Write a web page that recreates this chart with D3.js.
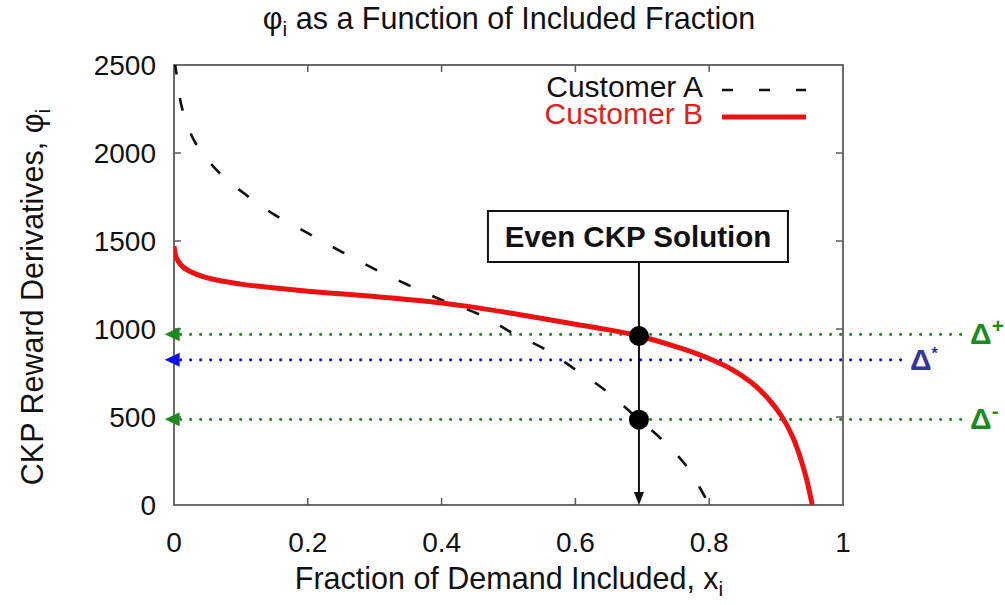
<!DOCTYPE html>
<html><head><meta charset="utf-8">
<script src="https://cdn.jsdelivr.net/npm/d3@7"></script>
<style>
html,body{margin:0;padding:0;background:#fff;}
text{font-family:"Liberation Sans",Arial,Helvetica,sans-serif;}
</style></head>
<body>
<svg id="chart" width="1005" height="605"></svg>
<script>
// ---- data ----
const xTicks = [0, 0.2, 0.4, 0.6, 0.8, 1];
const xTickLabels = ["0", "0.2", "0.4", "0.6", "0.8", "1"];
const yTicks = [0, 500, 1000, 1500, 2000, 2500];
const yTickLabels = ["0", "500", "1000", "1500", "2000", "2500"];

const seriesNames = ["Customer A", "Customer B"];
const custA_x = [0.001, 0.005, 0.0115, 0.031, 0.066, 0.108, 0.15, 0.2, 0.25, 0.3, 0.35, 0.4, 0.461, 0.506, 0.557, 0.601, 0.648, 0.695, 0.73, 0.767, 0.8];
const custA_y = [2520, 2420, 2263, 2064, 1894, 1761, 1650, 1545, 1440, 1340, 1250, 1165, 1075, 977, 880, 767, 642, 485, 369, 216, 0];
const custB_x = [0, 0.003, 0.01, 0.02, 0.05, 0.1, 0.2, 0.3, 0.4, 0.442, 0.5, 0.6, 0.65, 0.695, 0.75, 0.78, 0.805, 0.835, 0.864, 0.888, 0.909, 0.925, 0.937, 0.946, 0.954];
const custB_y = [1470, 1410, 1365, 1335, 1290, 1255, 1215, 1185, 1148, 1127, 1092, 1027, 995, 960, 900, 862, 824, 768, 693, 605, 500, 385, 260, 140, 0];

const deltaNames = ["Δ", "Δ", "Δ"];
const deltaSup = ["+", "*", "-"];
const deltaValues = [970, 825, 487];
const deltaLineEnd = [1.187, 1.097, 1.187];   // x (data units) where each dotted line stops
const deltaColors = ["#1e8a1e", "#1010e0", "#1e8a1e"];
const deltaLabelColors = ["#1e8a1e", "#34349a", "#1e8a1e"];

const solutionLabel = "Even CKP Solution";
const solutionX = 0.695;
const solutionDots = [960, 485];

// ---- layout ----
const svg = d3.select("#chart");
const x = d3.scaleLinear().domain([0, 1]).range([174, 843]);
const y = d3.scaleLinear().domain([0, 2500]).range([505, 65]);
const FONT = 28;

svg.append("defs").append("clipPath").attr("id", "plotclip")
  .append("rect").attr("x", x(0)).attr("y", y(2500)).attr("width", x(1) - x(0)).attr("height", y(0) - y(2500));

// frame
const frameColor = "#5a5a5a";
svg.append("rect").attr("x", x(0)).attr("y", y(2500)).attr("width", x(1) - x(0)).attr("height", y(0) - y(2500))
  .attr("fill", "none").attr("stroke", frameColor).attr("stroke-width", 1.8);

// ticks (inward, all four sides)
const tl = 7;
const inner = xTicks.filter(d => d > 0 && d < 1);
const innerY = yTicks.filter(d => d > 0 && d < 2500);
svg.selectAll(".xtb").data(inner).enter().append("line")
  .attr("x1", d => x(d)).attr("x2", d => x(d)).attr("y1", y(0)).attr("y2", y(0) - tl)
  .attr("stroke", frameColor).attr("stroke-width", 1.5);
svg.selectAll(".xtt").data(inner).enter().append("line")
  .attr("x1", d => x(d)).attr("x2", d => x(d)).attr("y1", y(2500)).attr("y2", y(2500) + tl)
  .attr("stroke", frameColor).attr("stroke-width", 1.5);
svg.selectAll(".ytl").data(innerY).enter().append("line")
  .attr("x1", x(0)).attr("x2", x(0) + tl).attr("y1", d => y(d)).attr("y2", d => y(d))
  .attr("stroke", frameColor).attr("stroke-width", 1.5);
svg.selectAll(".ytr").data(innerY).enter().append("line")
  .attr("x1", x(1)).attr("x2", x(1) - tl).attr("y1", d => y(d)).attr("y2", d => y(d))
  .attr("stroke", frameColor).attr("stroke-width", 1.5);

// tick labels
svg.selectAll(".xl").data(xTicks).enter().append("text")
  .attr("x", d => x(d)).attr("y", 552).attr("text-anchor", "middle")
  .attr("font-size", FONT).attr("fill", "#111").text((d, i) => xTickLabels[i]);
svg.selectAll(".yl").data(yTicks).enter().append("text")
  .attr("x", 156).attr("y", d => y(d) + 10).attr("text-anchor", "end")
  .attr("font-size", FONT).attr("fill", "#111").text((d, i) => yTickLabels[i]);

// title
const title = svg.append("text").attr("x", 509).attr("y", 29).attr("text-anchor", "middle")
  .attr("font-size", 30.5).attr("fill", "#111");
title.append("tspan").text("φ");
title.append("tspan").attr("font-size", 21).attr("dy", 7).text("i");
title.append("tspan").attr("dy", -7).text(" as a Function of Included Fraction");

// x label
const xl = svg.append("text").attr("x", 509).attr("y", 589).attr("text-anchor", "middle")
  .attr("font-size", 30.5).attr("fill", "#111");
xl.append("tspan").text("Fraction of Demand Included, x");
xl.append("tspan").attr("font-size", 21).attr("dy", 7).text("i");

// y label
const yl = svg.append("text").attr("transform", "translate(43,297) rotate(-90)").attr("text-anchor", "middle")
  .attr("font-size", 30.5).attr("fill", "#111");
yl.append("tspan").text("CKP Reward Derivatives, φ");
yl.append("tspan").attr("font-size", 21).attr("dy", 7).text("i");

// delta dotted lines + arrowheads + labels
deltaValues.forEach((v, i) => {
  const yy = y(v);
  const x0 = x(-0.005);
  svg.append("line").attr("x1", x0 + 10).attr("x2", x(deltaLineEnd[i])).attr("y1", yy).attr("y2", yy)
    .attr("stroke", deltaColors[i]).attr("stroke-width", 3.2)
    .attr("stroke-linecap", "round").attr("stroke-dasharray", "0,10");
  svg.append("path").attr("d", `M${x0 - 6},${yy} L${x0 + 9},${yy - 7} L${x0 + 9},${yy + 7} Z`)
    .attr("fill", deltaColors[i]);
  const lab = svg.append("text").attr("x", x(deltaLineEnd[i]) + 2).attr("y", yy + 10)
    .attr("font-size", 30).attr("font-weight", "bold").attr("fill", deltaLabelColors[i]);
  lab.append("tspan").text(deltaNames[i]);
  lab.append("tspan").attr("font-size", i === 1 ? 16 : 21).attr("dy", -11).text(deltaSup[i]);
});

// curves
const line = d3.line().x(d => x(d[0])).y(d => y(d[1])).curve(d3.curveCatmullRom.alpha(0.5));
const g = svg.append("g").attr("clip-path", "url(#plotclip)");
g.append("path").datum(custA_x.map((d, i) => [d, custA_y[i]]))
  .attr("d", line).attr("fill", "none").attr("stroke", "#111").attr("stroke-width", 2.6)
  .attr("stroke-dasharray", "13,24");
g.append("path").datum(custB_x.map((d, i) => [d, custB_y[i]]))
  .attr("d", line).attr("fill", "none").attr("stroke", "#ee1111").attr("stroke-width", 5);

// solution annotation
const sx = x(solutionX);
svg.append("line").attr("x1", sx).attr("x2", sx).attr("y1", 262).attr("y2", y(0) - 10)
  .attr("stroke", "#111").attr("stroke-width", 2);
svg.append("path").attr("d", `M${sx},${y(0)} L${sx - 5},${y(0) - 13} L${sx + 5},${y(0) - 13} Z`).attr("fill", "#111");
svg.selectAll(".soldot").data(solutionDots).enter().append("circle")
  .attr("cx", sx).attr("cy", d => y(d)).attr("r", 10).attr("fill", "#000");
svg.append("rect").attr("x", sx - 151).attr("y", 211).attr("width", 300).attr("height", 51)
  .attr("fill", "#fff").attr("stroke", "#111").attr("stroke-width", 2);
svg.append("text").attr("x", sx - 1).attr("y", 247).attr("text-anchor", "middle")
  .attr("font-size", 29.5).attr("font-weight", "bold").attr("fill", "#111").text(solutionLabel);

// legend
const legColors = ["#111", "#dd2222"];
seriesNames.forEach((n, i) => {
  const by = 97 + i * 27;
  svg.append("text").attr("x", 703).attr("y", by).attr("text-anchor", "end")
    .attr("font-size", 30).attr("fill", legColors[i]).text(n);
  const ly = by - 7;
  const l = svg.append("line").attr("x1", 722).attr("x2", 806).attr("y1", ly).attr("y2", ly);
  if (i === 0) l.attr("stroke", "#111").attr("stroke-width", 2.6).attr("stroke-dasharray", "11,26");
  else l.attr("stroke", "#ee1111").attr("stroke-width", 5);
});
</script>
</body></html>
